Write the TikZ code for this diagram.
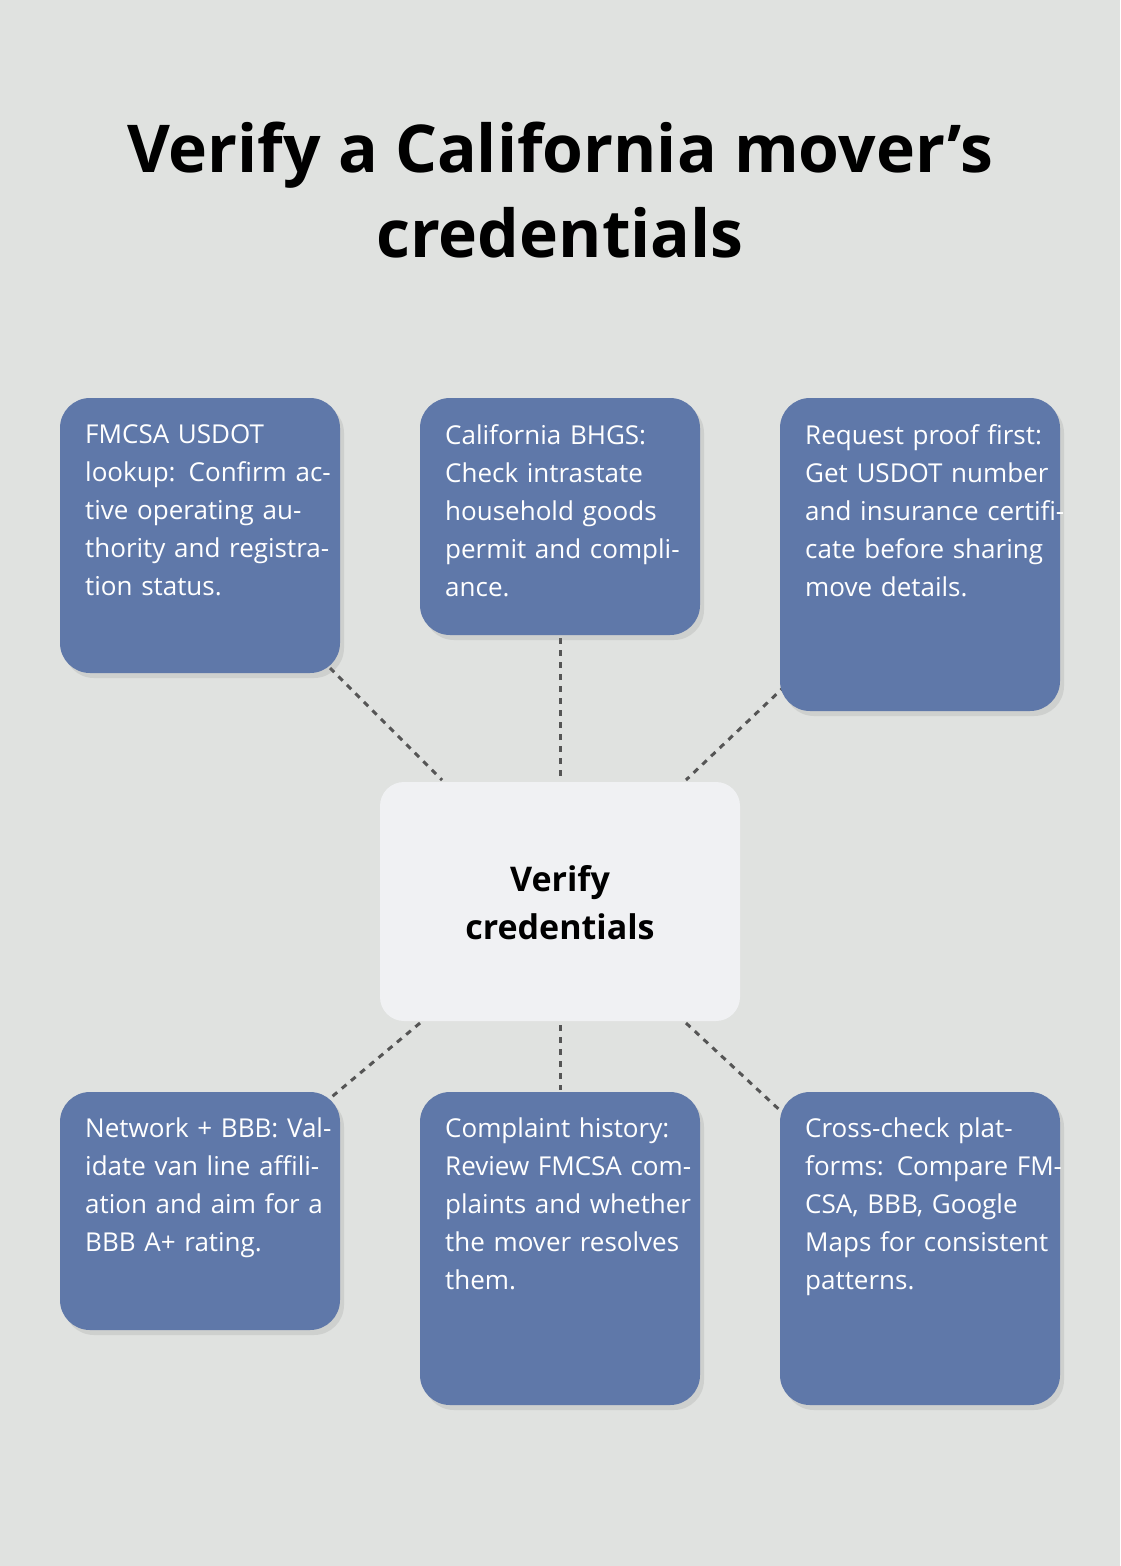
\documentclass[tikz,border=0pt]{standalone}
\usepackage{fontspec}
\setmainfont{Open Sans}
\usetikzlibrary{shadows}
\definecolor{bg}{HTML}{E0E2E0}
\definecolor{boxc}{HTML}{5F78A9}
\definecolor{ctr}{HTML}{F0F1F3}
\definecolor{ln}{HTML}{555555}
\begin{document}
\begin{tikzpicture}[x=1pt,y=-1pt,
  card/.style={fill=boxc,rounded corners=30pt,drop shadow={shadow xshift=4pt,shadow yshift=-5pt,opacity=0.18}},
  txt/.style={anchor=north west,text=white,align=left,text width=260pt,inner sep=0pt,font=\fontsize{26}{38}\selectfont},
  conn/.style={ln,line width=3pt,dash pattern=on 6pt off 6pt}]
\fill[bg] (0,0) rectangle (1120,1566);
\useasboundingbox (0,0) rectangle (1120,1566);
\node[align=center,font=\fontsize{66}{85}\selectfont\bfseries] (title) at (560,190) {Verify a California mover’s\\credentials};
% connectors
\coordinate (a1) at (330,668); \coordinate (a2) at (442,780);
\coordinate (b1) at (560,638); \coordinate (b2) at (560,780);
\coordinate (c1) at (785,686); \coordinate (c2) at (686,780);
\coordinate (d1) at (420,1023); \coordinate (d2) at (328,1100);
\coordinate (e1) at (560,1025); \coordinate (e2) at (560,1090);
\coordinate (f1) at (686,1023); \coordinate (f2) at (785,1115);
\draw[conn] (a1)--(a2); \draw[conn] (b1)--(b2); \draw[conn] (c1)--(c2);
\draw[conn] (d1)--(d2); \draw[conn] (e1)--(e2); \draw[conn] (f1)--(f2);
% cards
\path[card] (60,398) rectangle (340,673);
\path[card] (420,398) rectangle (700,635);
\path[card] (780,398) rectangle (1060,711);
\path[card] (60,1092) rectangle (340,1330);
\path[card] (420,1092) rectangle (700,1405);
\path[card] (780,1092) rectangle (1060,1405);
\path[fill=ctr,rounded corners=24pt] (380,782) rectangle (740,1021);
\node[align=center,font=\fontsize{34}{48}\selectfont\bfseries] (center) at (560,903) {Verify\\credentials};
\node[txt] (n1) at (85,424) {FMCSA USDOT lookup: Confirm active operating authority and registration status.};
\node[txt] (n2) at (445,424) {California BHGS: Check intrastate household goods permit and compliance.};
\node[txt] (n3) at (805,424) {Request proof first: Get USDOT number and insurance certificate before sharing move details.};
\node[txt] (n4) at (85,1118) {Network + BBB: Validate van line affiliation and aim for a BBB A+ rating.};
\node[txt] (n5) at (445,1118) {Complaint history: Review FMCSA complaints and whether the mover resolves them.};
\node[txt] (n6) at (805,1118) {Cross-check platforms: Compare FMCSA, BBB, Google Maps for consistent patterns.};
\end{tikzpicture}
\end{document}
